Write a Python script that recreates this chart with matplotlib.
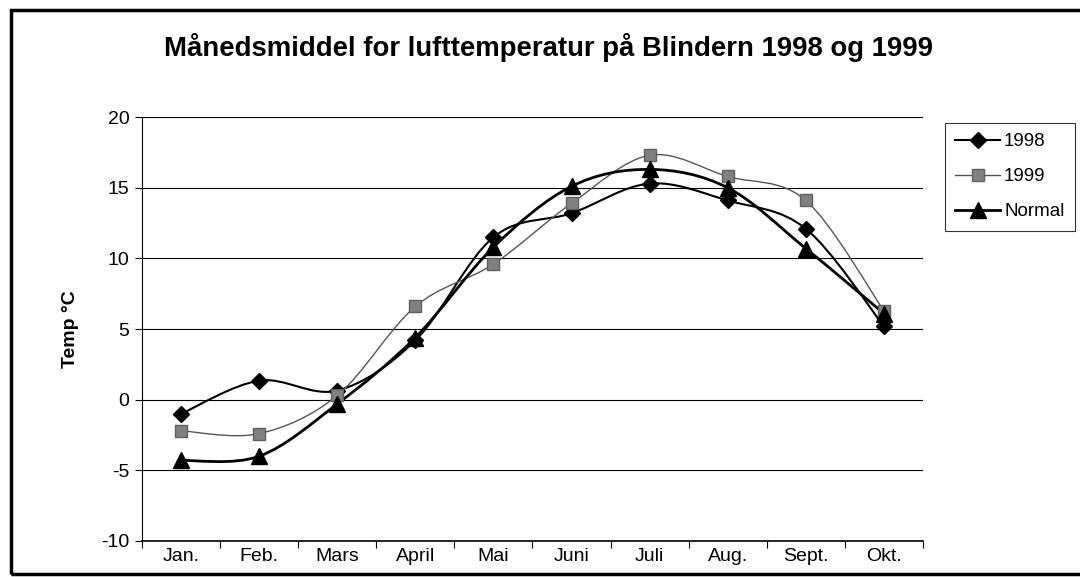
import matplotlib
matplotlib.use("Agg")
import matplotlib.pyplot as plt
import numpy as np
from matplotlib.path import Path
from matplotlib.patches import PathPatch, Rectangle
from matplotlib.lines import Line2D

plt.rcParams['font.family'] = ['Liberation Sans', 'DejaVu Sans']

# Data
maaneder = ['Jan.', 'Feb.', 'Mars', 'April', 'Mai', 'Juni', 'Juli', 'Aug.', 'Sept.', 'Okt.']
t1998 = [-1.0, 1.35, 0.65, 4.2, 11.5, 13.2, 15.3, 14.1, 12.1, 5.2]
t1999 = [-2.2, -2.4, 0.3, 6.6, 9.6, 13.9, 17.3, 15.8, 14.1, 6.3]
normal = [-4.3, -4.0, -0.3, 4.4, 10.8, 15.1, 16.3, 15.0, 10.7, 6.1]

serier = ['1998', '1999', 'Normal']


def glatt_sti(xs, ys):
    # Excel-lignende glatting: bezier-kurver gjennom punktene
    p = np.column_stack([xs, ys]).astype(float)
    n = len(p)
    verts = [p[0]]
    codes = [Path.MOVETO]
    for i in range(n - 1):
        p0 = p[i - 1] if i > 0 else p[i]
        p3 = p[i + 2] if i + 2 < n else p[i + 1]
        c1 = p[i] + (p[i + 1] - p0) / 6.0
        c2 = p[i + 1] - (p3 - p[i]) / 6.0
        verts += [c1, c2, p[i + 1]]
        codes += [Path.CURVE4] * 3
    return Path(verts, codes)


fig = plt.figure(figsize=(10.8, 5.77), dpi=100)
ax = fig.add_axes([0.1315, 0.0624, 0.8546 - 0.1315, 0.797 - 0.0624])

x = np.arange(len(maaneder))

stiler = [
    (t1998, dict(color='black', lw=1.5), dict(marker='D', color='black', ms=8.5)),
    (t1999, dict(color='#555555', lw=1.0), dict(marker='s', color='#808080', ms=8.5, mec='#606060')),
    (normal, dict(color='black', lw=2.0), dict(marker='^', color='black', ms=11)),
]

handles = []
for (verdier, linje, merke), navn in zip(stiler, serier):
    ax.add_patch(PathPatch(glatt_sti(x, verdier), fill=False, edgecolor=linje['color'],
                           lw=linje['lw'], zorder=3))
    ax.plot(x, verdier, linestyle='none', zorder=4, **merke)
    handles.append(Line2D([], [], color=linje['color'], lw=linje['lw'],
                          **{k: v for k, v in merke.items() if k != 'color'},
                          mfc=merke['color']))

ax.set_xlim(-0.5, 9.5)
ax.set_ylim(-10, 20)
ax.set_yticks(np.arange(-10, 21, 5))
ax.set_yticklabels([str(v) for v in range(-10, 21, 5)], fontsize=14)
ax.set_xticks(x)
ax.set_xticklabels(maaneder, fontsize=14)
ax.set_xticks(np.arange(-0.5, 10, 1), minor=True)
ax.tick_params(axis='x', which='major', length=0, pad=5)
ax.tick_params(axis='x', which='minor', length=5, direction='out', width=0.8)
ax.tick_params(axis='y', length=5, direction='out', width=0.8, pad=4)

ax.grid(axis='y', color='black', lw=0.8)
ax.set_axisbelow(True)
for s in ['top', 'right']:
    ax.spines[s].set_visible(False)
ax.spines['left'].set_linewidth(0.8)
ax.spines['bottom'].set_linewidth(1.2)

ax.set_ylabel('Temp °C', fontsize=14, fontweight='bold', labelpad=16)

fig.text(0.508, 0.918, 'Månedsmiddel for lufttemperatur på Blindern 1998 og 1999',
         ha='center', va='center', fontsize=19.8, fontweight='bold')

leg = fig.legend(handles, serier, loc='upper left', bbox_to_anchor=(0.875, 0.787),
                 fontsize=13.5, frameon=True, fancybox=False, edgecolor='black',
                 handlelength=2.4, handletextpad=0.2, borderpad=0.55, borderaxespad=0,
                 labelspacing=0.95)
leg.get_frame().set_linewidth(0.8)

# ytre ramme
fig.patches.append(Rectangle((11 / 1080, 3 / 577), 1.2, 564 / 577, transform=fig.transFigure,
                             fill=False, edgecolor='black', lw=2.5))

fig.savefig('out.png', dpi=100)
